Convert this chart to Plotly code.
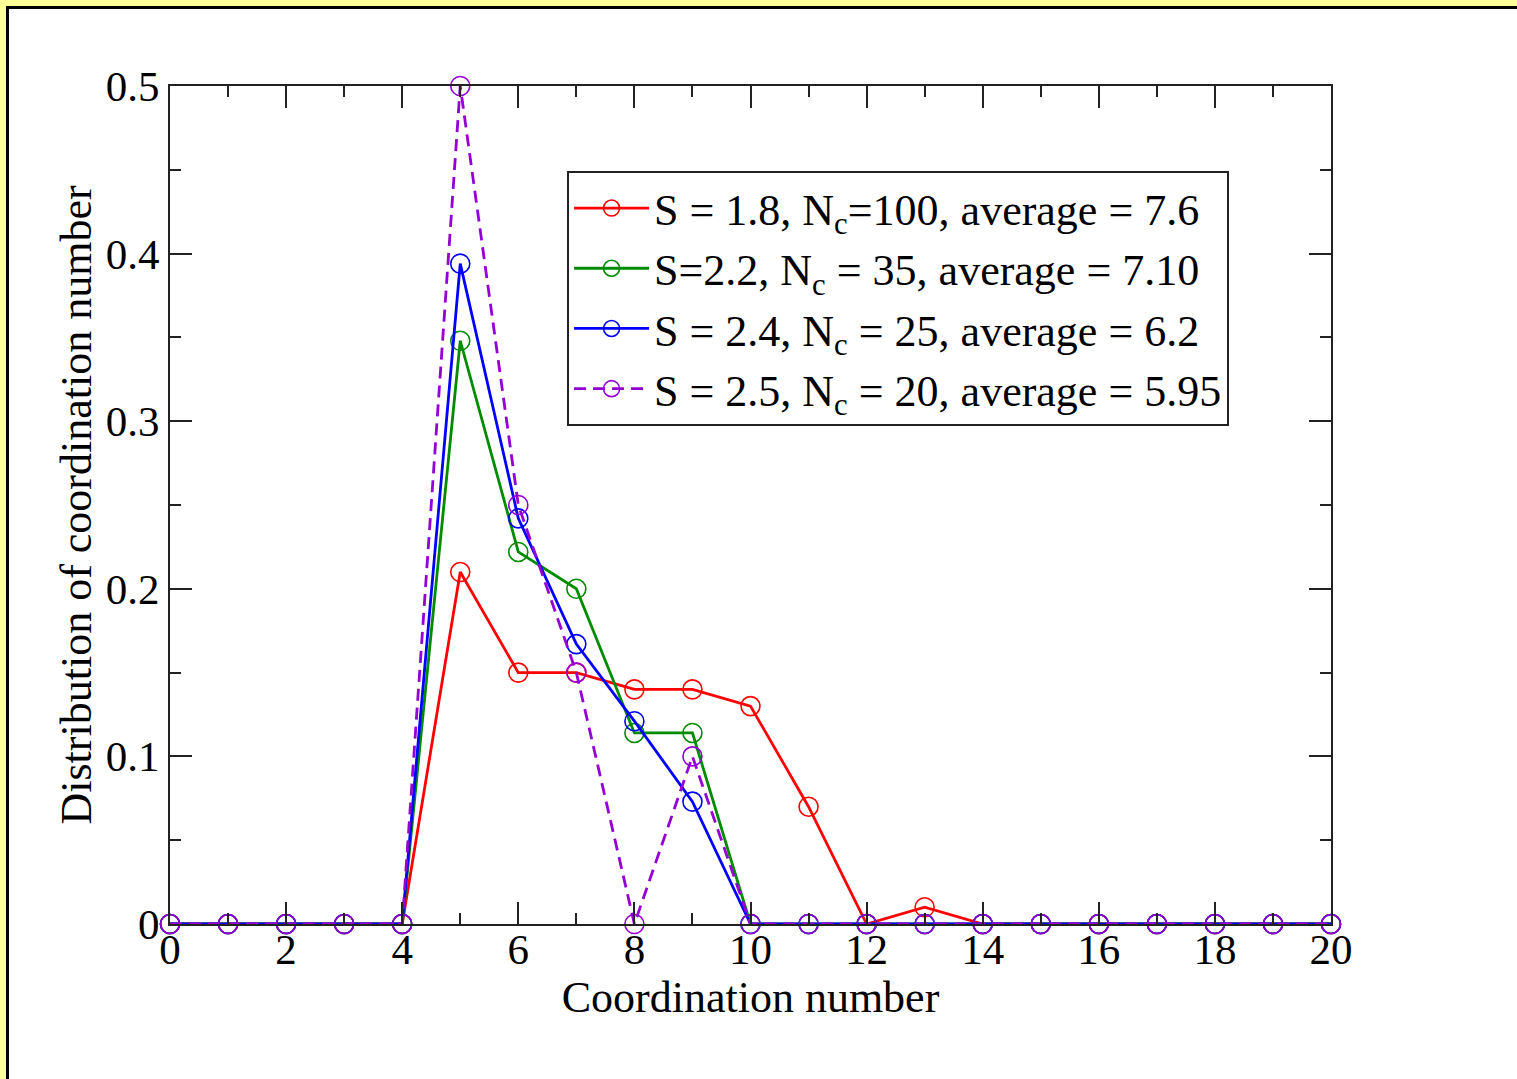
import plotly.graph_objects as go

# Coordination numbers 0..20 and their distributions for four values of S
coord = list(range(21))

dist_s18 = [0, 0, 0, 0, 0, 0.21, 0.15, 0.15, 0.14, 0.14, 0.13, 0.07, 0, 0.01,
            0, 0, 0, 0, 0, 0, 0]
dist_s22 = [0, 0, 0, 0, 0, 0.348, 0.222, 0.2, 0.114, 0.114, 0, 0, 0, 0,
            0, 0, 0, 0, 0, 0, 0]
dist_s24 = [0, 0, 0, 0, 0, 0.394, 0.242, 0.167, 0.121, 0.073, 0, 0, 0, 0,
            0, 0, 0, 0, 0, 0, 0]
dist_s25 = [0, 0, 0, 0, 0, 0.5, 0.25, 0.15, 0, 0.1, 0, 0, 0, 0,
            0, 0, 0, 0, 0, 0, 0]

labels = [
    "S = 1.8, N<sub>c</sub>=100, average = 7.6",
    "S=2.2, N<sub>c</sub> = 35, average = 7.10",
    "S = 2.4, N<sub>c</sub> = 25, average = 6.2",
    "S = 2.5, N<sub>c</sub> = 20, average = 5.95",
]
series = [dist_s18, dist_s22, dist_s24, dist_s25]
colors = ["#FF0000", "#008B00", "#0000FF", "#9400D3"]
dashes = ["solid", "solid", "solid", "12px,7px"]

x_ticks = list(range(0, 21, 2))
y_ticks = [0, 0.1, 0.2, 0.3, 0.4, 0.5]
y_ticktext = ["0", "0.1", "0.2", "0.3", "0.4", "0.5"]

FONT = "Liberation Serif, Times New Roman, serif"

fig = go.Figure()
for name, vals, col, dash in zip(labels, series, colors, dashes):
    fig.add_trace(go.Scatter(
        x=coord, y=vals, name=name, mode="lines+markers",
        line=dict(color=col, width=2.8, dash=dash),
        marker=dict(symbol="circle-open", size=19, color=col,
                    line=dict(width=1.6, color=col)),
        cliponaxis=False,
    ))

# white page with a dark frame on a pale yellow background
fig.add_shape(type="rect", xref="paper", yref="paper",
              x0=-0.13997, x1=1.25, y0=-0.3, y1=1.09368,
              line=dict(color="black", width=3), fillcolor="white",
              layer="below")

axis_common = dict(
    showline=True, linecolor="#222222", linewidth=2,
    mirror="allticks", ticks="inside", ticklen=22, tickwidth=2,
    tickcolor="#222222", showgrid=False, zeroline=False,
    tickfont=dict(family=FONT, size=43, color="black"),
)

fig.update_xaxes(
    range=[0, 20], tickvals=x_ticks, ticklabelstandoff=-14,
    minor=dict(ticks="inside", ticklen=11, tickwidth=2, dtick=1,
               tickcolor="#222222", showgrid=False),
    title=dict(text="Coordination number",
               font=dict(family=FONT, size=44, color="black"), standoff=4),
    **axis_common,
)
fig.update_yaxes(
    range=[0, 0.5], tickvals=y_ticks, ticktext=y_ticktext,
    minor=dict(ticks="inside", ticklen=11, tickwidth=2, dtick=0.05,
               tickcolor="#222222", showgrid=False),
    title=dict(text="Distribution of coordination number",
               font=dict(family=FONT, size=44, color="black"), standoff=0),
    **axis_common,
)

fig.update_layout(
    width=1517, height=1079,
    margin=dict(l=170, r=186, t=86, b=155, autoexpand=False),
    paper_bgcolor="#FFFF99", plot_bgcolor="white",
    font=dict(family=FONT, color="black"),
    legend=dict(
        x=0.342, y=0.8986, xanchor="left", yanchor="top",
        bgcolor="white", bordercolor="#222222", borderwidth=2,
        font=dict(family=FONT, size=44, color="black"),
        itemwidth=75,
    ),
)

fig.write_html("out.html")
